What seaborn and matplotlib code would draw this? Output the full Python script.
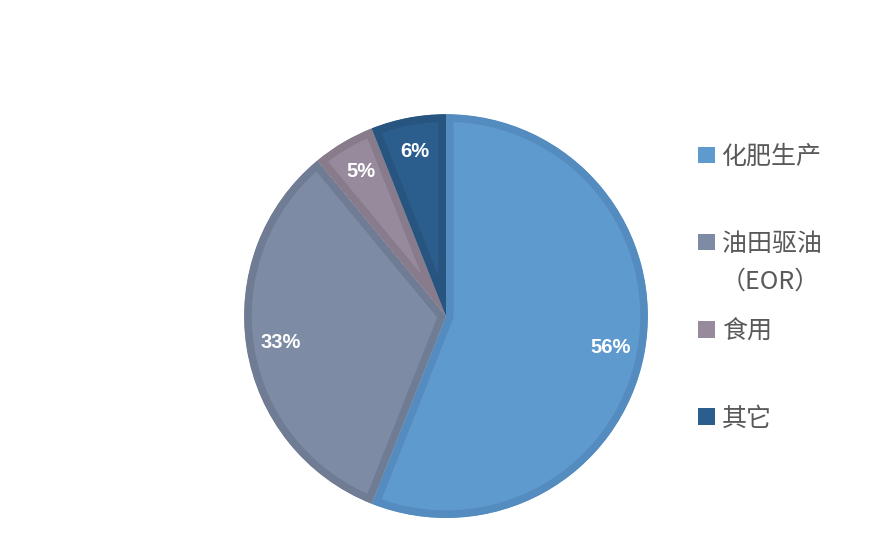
import matplotlib
matplotlib.use('Agg')
import matplotlib.pyplot as plt
import seaborn as sns
from matplotlib.patches import Patch

sns.set_theme(style='white')
plt.rcParams['font.family'] = ['Noto Sans CJK SC', 'DejaVu Sans']

# === data ===
labels = ['化肥生产', '油田驱油', '食用', '其它']
shares = [56, 33, 5, 6]
fill_colors = ['#5F9ACE', '#7D8BA5', '#978A9C', '#2B5D8D']
edge_colors = ['#558CC0', '#707C94', '#887C8C', '#275580']

fig = plt.figure(figsize=(8.92, 5.42), dpi=100)
ax = fig.add_axes([0.2735, 0.0443, 0.453, 0.745])

wedges, texts, autotexts = ax.pie(
    shares, colors=fill_colors, startangle=90, counterclock=False,
    autopct='%d%%', pctdistance=0.83, radius=1,
    textprops=dict(color='white', fontsize=14.5, fontweight='bold',
                   family=['Liberation Sans', 'DejaVu Sans']))

# inner border: thick stroke clipped to each wedge
for w, ec in zip(wedges, edge_colors):
    w.set_edgecolor(ec)
    w.set_linewidth(11)
    w.set_clip_on(True)
    w.set_clip_path(w)

ax.set_xlim(-1, 1)
ax.set_ylim(-1, 1)
ax.set_aspect('equal')
ax.axis('off')

handles = [Patch(facecolor=c, edgecolor='none') for c in fill_colors]
leg = fig.legend(handles, labels, loc='upper left', bbox_to_anchor=(0.769, 0.758),
                 frameon=False, fontsize=18, handlelength=0.65, handleheight=0.65,
                 handletextpad=0.3, labelspacing=2.45, borderpad=0)
for t in leg.get_texts():
    t.set_color('#595959')

fig.text(0.808, 0.48, '（EOR）', fontsize=18, color='#595959', va='center', ha='left')

plt.savefig('out.png', dpi=100)
